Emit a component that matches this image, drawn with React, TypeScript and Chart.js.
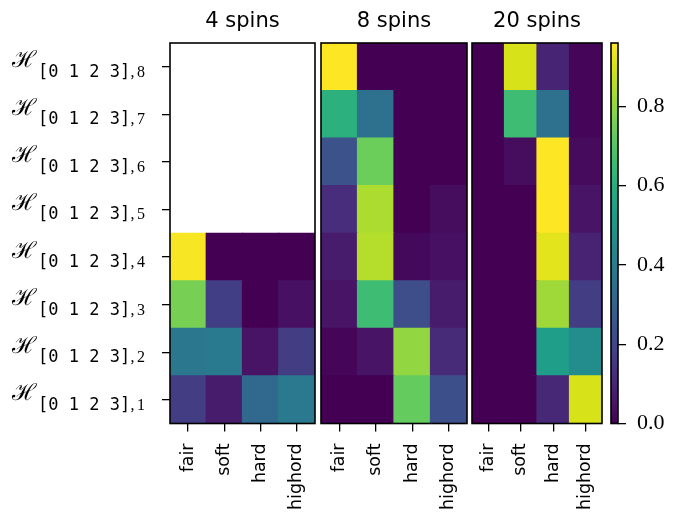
import React, { useEffect, useRef } from "react";
import { Chart, registerables } from "chart.js";

Chart.register(...registerables);

// ---------------- data ----------------
const columns = ["fair", "soft", "hard", "highord"];
const rowIndices = [1, 2, 3, 4, 5, 6, 7, 8];
const rowSymbol = "ℋ";
const rowSet = "[0 1 2 3]";
const panelTitles = ["4 spins", "8 spins", "20 spins"];

// rows 1..8 (bottom to top), columns fair, soft, hard, highord
const spins4: (number | null)[][] = [
  [0.17, 0.07, 0.32, 0.385],
  [0.38, 0.39, 0.05, 0.17],
  [0.76, 0.175, 0.0, 0.04],
  [0.95, 0.0, 0.0, 0.0],
  [null, null, null, null],
  [null, null, null, null],
  [null, null, null, null],
  [null, null, null, null],
];
const spins8: (number | null)[][] = [
  [0.0, 0.0, 0.73, 0.23],
  [0.01, 0.05, 0.8, 0.11],
  [0.05, 0.66, 0.225, 0.07],
  [0.07, 0.85, 0.02, 0.04],
  [0.12, 0.84, 0.0, 0.03],
  [0.24, 0.74, 0.0, 0.0],
  [0.61, 0.355, 0.0, 0.0],
  [0.96, 0.0, 0.0, 0.0],
];
const spins20: (number | null)[][] = [
  [0.0, 0.0, 0.105, 0.9],
  [0.0, 0.0, 0.53, 0.46],
  [0.0, 0.0, 0.82, 0.17],
  [0.0, 0.0, 0.92, 0.09],
  [0.0, 0.0, 0.96, 0.05],
  [0.0, 0.03, 0.96, 0.025],
  [0.0, 0.66, 0.355, 0.01],
  [0.0, 0.9, 0.095, 0.01],
];
const panelValues = [spins4, spins8, spins20];
const colorbarTicks = [0, 0.2, 0.4, 0.6, 0.8];
const vmin = 0;
const vmax = 0.96;

// ---------------- styling ----------------
const viridisStops = [
  "#440154", "#48186a", "#472d7b", "#424086", "#3b528b", "#33638d",
  "#2c728e", "#26828e", "#21918c", "#1fa088", "#28ae80", "#3fbc73",
  "#5ec962", "#84d44b", "#addc30", "#d8e219", "#fde725",
];

function hexToRgb(h: string) {
  return [
    parseInt(h.slice(1, 3), 16),
    parseInt(h.slice(3, 5), 16),
    parseInt(h.slice(5, 7), 16),
  ];
}

function viridis(t: number) {
  const tt = Math.max(0, Math.min(1, t));
  const n = viridisStops.length - 1;
  const p = tt * n;
  const i = Math.min(n - 1, Math.floor(p));
  const f = p - i;
  const a = hexToRgb(viridisStops[i]);
  const b = hexToRgb(viridisStops[i + 1]);
  const c = a.map((v, k) => Math.round(v + (b[k] - v) * f));
  return `rgb(${c[0]},${c[1]},${c[2]})`;
}

const W = 682;
const H = 514;
const TOP = 43;
const BOTTOM = 423.5;
const panelBoxes = [
  { left: 170, right: 315 },
  { left: 321, right: 467 },
  { left: 472, right: 602 },
];
const cbBox = { left: 611, right: 618 };
const TICK_LEN = 8;

const framePlugin = {
  id: "frame",
  afterDatasetsDraw(chart: any) {
    const { ctx, chartArea } = chart;
    ctx.save();
    ctx.strokeStyle = "#000";
    ctx.lineWidth = 1.6;
    ctx.strokeRect(
      chartArea.left,
      chartArea.top,
      chartArea.right - chartArea.left,
      chartArea.bottom - chartArea.top
    );
    ctx.restore();
  },
};

const yLabelPlugin = {
  id: "yLabels",
  afterDraw(chart: any) {
    const ys = chart.scales.y;
    const ctx = chart.ctx;
    const left = chart.chartArea.left;
    ctx.save();
    ctx.fillStyle = "#000";
    ctx.textAlign = "left";
    ctx.textBaseline = "alphabetic";
    const fH = '23px "DejaVu Serif"';
    const fM = '17px "DejaVu Sans Mono"';
    const fS = '16px "Liberation Serif"';
    rowIndices.forEach((r) => {
      const y = ys.getPixelForValue(r);
      ctx.font = fH;
      ctx.fillText(rowSymbol, left - 158, y + 0.5);
      const xM = left - 132;
      ctx.font = fM;
      ctx.fillText(rowSet, xM, y + 10);
      const wM = ctx.measureText(rowSet).width;
      ctx.font = fS;
      const xC = xM + wM + 0.5;
      ctx.fillText(",", xC, y + 10);
      const wC = ctx.measureText(",").width;
      ctx.fillText(String(r), xC + wC + 2.5, y + 10);
    });
    ctx.restore();
  },
};

function panelConfig(p: number): any {
  const values = panelValues[p];
  const first = p === 0;
  return {
    type: "bar",
    data: {
      labels: columns,
      datasets: rowIndices.map((r, i) => ({
        label: "row " + r,
        data: values[i].map((v) => (v === null ? null : [r - 0.5, r + 0.5])),
        backgroundColor: values[i].map((v) =>
          v === null ? "rgba(0,0,0,0)" : viridis((v - vmin) / (vmax - vmin))
        ),
        borderWidth: 0,
        barPercentage: 1,
        categoryPercentage: 1,
        grouped: false,
        inflateAmount: 0.6,
      })),
    },
    options: {
      responsive: false,
      animation: false,
      events: [],
      layout: { padding: { left: first ? 0 : 2, right: 2, top: 0, bottom: 0 } },
      plugins: { legend: { display: false }, tooltip: { enabled: false } },
      scales: {
        x: {
          type: "category",
          position: "bottom",
          offset: true,
          grid: {
            display: true,
            offset: false,
            drawOnChartArea: false,
            drawTicks: true,
            tickLength: TICK_LEN,
            color: "#000",
            lineWidth: 1.3,
          },
          border: { display: false },
          ticks: {
            minRotation: 90,
            maxRotation: 90,
            autoSkip: false,
            padding: 12,
            color: "#000",
            font: { family: "DejaVu Sans", size: 17.4 },
          },
          afterFit: (s: any) => {
            s.height = H - BOTTOM;
            s.paddingLeft = 0;
            s.paddingRight = 0;
          },
        },
        xTop: {
          axis: "x",
          type: "category",
          position: "top",
          offset: true,
          grid: { display: false },
          border: { display: false },
          ticks: { display: false },
          title: {
            display: true,
            text: panelTitles[p],
            color: "#000",
            font: { family: "DejaVu Sans", size: 21 },
            padding: { top: 9, bottom: 0 },
          },
          afterFit: (s: any) => {
            s.height = TOP;
            s.paddingLeft = 0;
            s.paddingRight = 0;
          },
        },
        y: {
          type: "linear",
          display: first,
          min: 0.5,
          max: 8.5,
          afterBuildTicks: (s: any) => {
            s.ticks = rowIndices.map((v) => ({ value: v }));
          },
          ticks: { display: false },
          grid: {
            display: true,
            drawOnChartArea: false,
            drawTicks: true,
            tickLength: TICK_LEN,
            color: "#000",
            lineWidth: 1.3,
          },
          border: { display: false },
          afterFit: (s: any) => {
            s.width = first ? panelBoxes[0].left : 0;
            s.paddingTop = 0;
            s.paddingBottom = 0;
          },
        },
      },
    },
    plugins: first ? [framePlugin, yLabelPlugin] : [framePlugin],
  };
}

function colorbarConfig(): any {
  return {
    type: "bar",
    data: {
      labels: ["cb"],
      datasets: [
        {
          label: "colorbar",
          data: [[vmin, vmax]],
          backgroundColor: (c: any) => {
            const chart = c.chart;
            const ys = chart.scales && chart.scales.y;
            if (!chart.chartArea || !ys) return viridis(0.5);
            const g = chart.ctx.createLinearGradient(
              0,
              ys.getPixelForValue(vmin),
              0,
              ys.getPixelForValue(vmax)
            );
            viridisStops.forEach((col, i) =>
              g.addColorStop(i / (viridisStops.length - 1), col)
            );
            return g;
          },
          borderWidth: 0,
          barPercentage: 1,
          categoryPercentage: 1,
          inflateAmount: 0.6,
        },
      ],
    },
    options: {
      responsive: false,
      animation: false,
      events: [],
      layout: { padding: { left: 2, right: 0, top: TOP, bottom: H - BOTTOM } },
      plugins: { legend: { display: false }, tooltip: { enabled: false } },
      scales: {
        x: { display: false, offset: true },
        y: {
          type: "linear",
          position: "right",
          min: vmin,
          max: vmax,
          afterBuildTicks: (s: any) => {
            s.ticks = colorbarTicks.map((v) => ({ value: v }));
          },
          ticks: {
            padding: 11,
            color: "#000",
            font: { family: "Liberation Serif", size: 22 },
            callback: (v: any) => Number(v).toFixed(1),
          },
          grid: {
            display: true,
            drawOnChartArea: false,
            drawTicks: true,
            tickLength: TICK_LEN,
            color: "#000",
            lineWidth: 1.3,
          },
          border: { display: false },
          afterFit: (s: any) => {
            s.width = W - cbBox.right;
            s.paddingTop = 0;
            s.paddingBottom = 0;
          },
        },
      },
    },
    plugins: [framePlugin],
  };
}

export default function App() {
  const r0 = useRef<HTMLCanvasElement>(null);
  const r1 = useRef<HTMLCanvasElement>(null);
  const r2 = useRef<HTMLCanvasElement>(null);
  const rc = useRef<HTMLCanvasElement>(null);

  useEffect(() => {
    const charts: Chart[] = [];
    [r0, r1, r2].forEach((ref, p) => {
      if (ref.current) charts.push(new Chart(ref.current, panelConfig(p)));
    });
    if (rc.current) charts.push(new Chart(rc.current, colorbarConfig()));
    return () => charts.forEach((c) => c.destroy());
  }, []);

  const canvasGeom = panelBoxes.map((b, p) => {
    const left = p === 0 ? 0 : b.left - 2;
    return { left, width: b.right + 2 - left };
  });
  const cbLeft = cbBox.left - 2;

  const refs = [r0, r1, r2];
  return (
    <div
      style={{
        position: "fixed",
        left: 0,
        top: 0,
        width: W,
        height: H,
        background: "#fff",
        overflow: "hidden",
      }}
    >
      {canvasGeom.map((g, p) => (
        <canvas
          key={p}
          ref={refs[p]}
          width={g.width}
          height={H}
          style={{
            position: "absolute",
            left: g.left,
            top: 0,
            width: g.width,
            height: H,
          }}
        />
      ))}
      <canvas
        ref={rc}
        width={W - cbLeft}
        height={H}
        style={{
          position: "absolute",
          left: cbLeft,
          top: 0,
          width: W - cbLeft,
          height: H,
        }}
      />
    </div>
  );
}
